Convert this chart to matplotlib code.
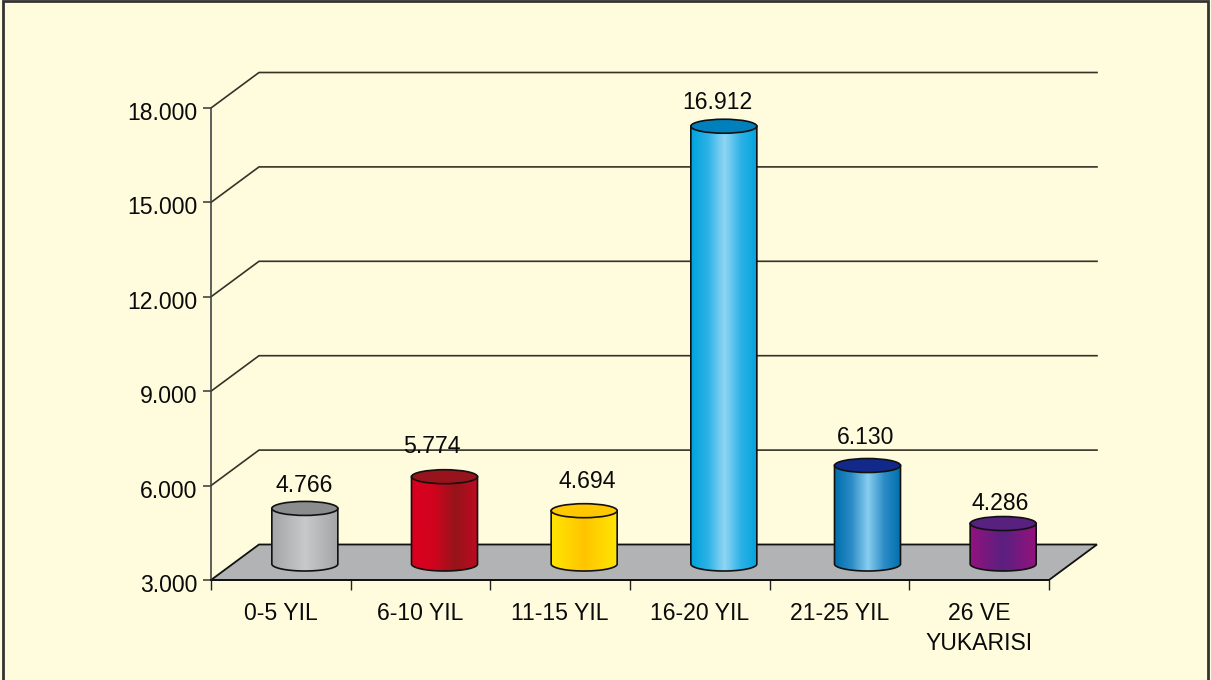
import numpy as np
import matplotlib
matplotlib.use("Agg")
import matplotlib.pyplot as plt
from matplotlib.colors import LinearSegmentedColormap
from matplotlib.patches import Ellipse, Polygon, Rectangle
from matplotlib.transforms import ScaledTranslation

categories = ["0-5 YIL", "6-10 YIL", "11-15 YIL", "16-20 YIL", "21-25 YIL", "26 VE\nYUKARISI"]
values = [4766, 5774, 4694, 16912, 6130, 4286]
value_labels = ["4.766", "5.774", "4.694", "16.912", "6.130", "4.286"]
y_ticks = [3000, 6000, 9000, 12000, 15000, 18000]
y_tick_labels = ["3.000", "6.000", "9.000", "12.000", "15.000", "18.000"]

# side gradient stops and lid colour for each bar
side_colors = [
    ["#A3A5A7", "#C8C9CB", "#A3A5A7"],
    ["#DA001E", "#D0041E", "#95141A", "#C00A20"],
    ["#FFE600", "#FFC400", "#FFE600"],
    ["#00A3DE", "#2CB2E6", "#90D5F4", "#2CB2E6", "#00A3DE"],
    ["#006FAD", "#2C8CC6", "#88CEF0", "#2C8CC6", "#006FAD"],
    ["#93127E", "#5A2080", "#93127E"],
]
lid_colors = ["#8A8C8E", "#98141C", "#FFC800", "#0081BD", "#13298A", "#58207F"]

bg = "#FFFBDD"
W, H = 1211, 680
fig = plt.figure(figsize=(W / 100, H / 100), dpi=100, facecolor=bg)
plt.rcParams["font.family"] = ["Liberation Sans", "DejaVu Sans"]
fs = 16.6

# frame round the picture
fig.add_artist(Rectangle((3 / W, -0.01), (1205) / W, 1.009, transform=fig.transFigure,
                         fill=False, ec="#333333", lw=2))

ax = fig.add_axes([211 / W, 100 / H, 838 / W, 472 / H])
ax.set_facecolor("none")
ax.set_xlim(0, 6)
ax.set_ylim(3000, 18000)
px_x = 6 / 838
px_y = 15000 / 472
dx = 48 * px_x
dy = 35.5 * px_y

# floor and back walls
ax.add_patch(Polygon([(0, 3000), (6, 3000), (6 + dx, 3000 + dy), (dx, 3000 + dy)],
                     fc="#B2B3B5", ec="#111111", lw=1.3, clip_on=False, zorder=1))
for v in y_ticks[1:]:
    ax.plot([0, dx, 6 + dx], [v, v + dy, v + dy], color="#333328", lw=1.2, clip_on=False, zorder=1)

half_w = 33 * px_x
lid_h = 14 * px_y
base = 3000 + 16 * px_y
for i, v in enumerate(values):
    c = i + 0.5 + dx / 2
    if i == 4:
        c += 4 * px_x
    cmap = LinearSegmentedColormap.from_list("side", side_colors[i])
    grad = np.linspace(0, 1, 200).reshape(1, -1)
    im = ax.imshow(grad, cmap=cmap, aspect="auto", zorder=3,
                   extent=(c - half_w, c + half_w, base - lid_h, v + base - 3000))
    t = np.linspace(np.pi, 2 * np.pi, 60)
    xs = c + half_w * np.cos(t)
    ys = base + lid_h / 2 * np.sin(t)
    top = v + base - 3000
    outline = list(zip(xs, ys)) + [(c + half_w, top), (c - half_w, top)]
    body = Polygon(outline, closed=True, fc="none", ec="#111111", lw=1.2, clip_on=False, zorder=4)
    ax.add_patch(body)
    im.set_clip_path(body)
    ax.add_patch(Ellipse((c, top), 2 * half_w, lid_h, fc=lid_colors[i], ec="#111111", lw=1.2,
                         clip_on=False, zorder=5))

# labels sit unevenly in the original, pixel nudges from the bar centre and lid
label_dx = [-1, -13, 3, -6, -2, -3]
label_dy = [23, 30, 29, 24, 28, 20]
for i, v in enumerate(values):
    c = i + 0.5 + dx / 2 + (4 * px_x if i == 4 else 0)
    ax.annotate(value_labels[i], (c, v + base - 3000), xytext=(label_dx[i] * 0.72, label_dy[i] * 0.72),
                textcoords="offset points", ha="center", va="center", fontsize=fs,
                color="#0A0A0A", zorder=6, annotation_clip=False)

ax.set_xlim(0, 6)
ax.set_ylim(3000, 18000)
for s in ["top", "right"]:
    ax.spines[s].set_visible(False)
ax.spines["left"].set_color("#444444")
ax.spines["bottom"].set_color("#111111")
ax.spines["left"].set_linewidth(1.2)
ax.spines["bottom"].set_linewidth(1.3)
ax.spines["left"].set_zorder(2)
ax.spines["bottom"].set_zorder(2)

ax.set_yticks(y_ticks)
ax.set_yticklabels(y_tick_labels, fontsize=fs, color="#0A0A0A")
ax.tick_params(axis="y", length=6, width=1.2, color="#444444", pad=4)
for lab in ax.get_yticklabels():
    lab.set_transform(lab.get_transform() + ScaledTranslation(0, -3 / 100, fig.dpi_scale_trans))
ax.set_xticks(range(7))
ax.set_xticklabels([])
ax.tick_params(axis="x", which="major", length=7, width=1, color="#222222")
ax.set_xticks(np.arange(6) + 0.5, minor=True)
ax.set_xticklabels(categories, minor=True, fontsize=fs, color="#0A0A0A", linespacing=1.4)
ax.tick_params(axis="x", which="minor", length=0, pad=16)

fig.savefig("out.png", dpi=100, facecolor=bg)
